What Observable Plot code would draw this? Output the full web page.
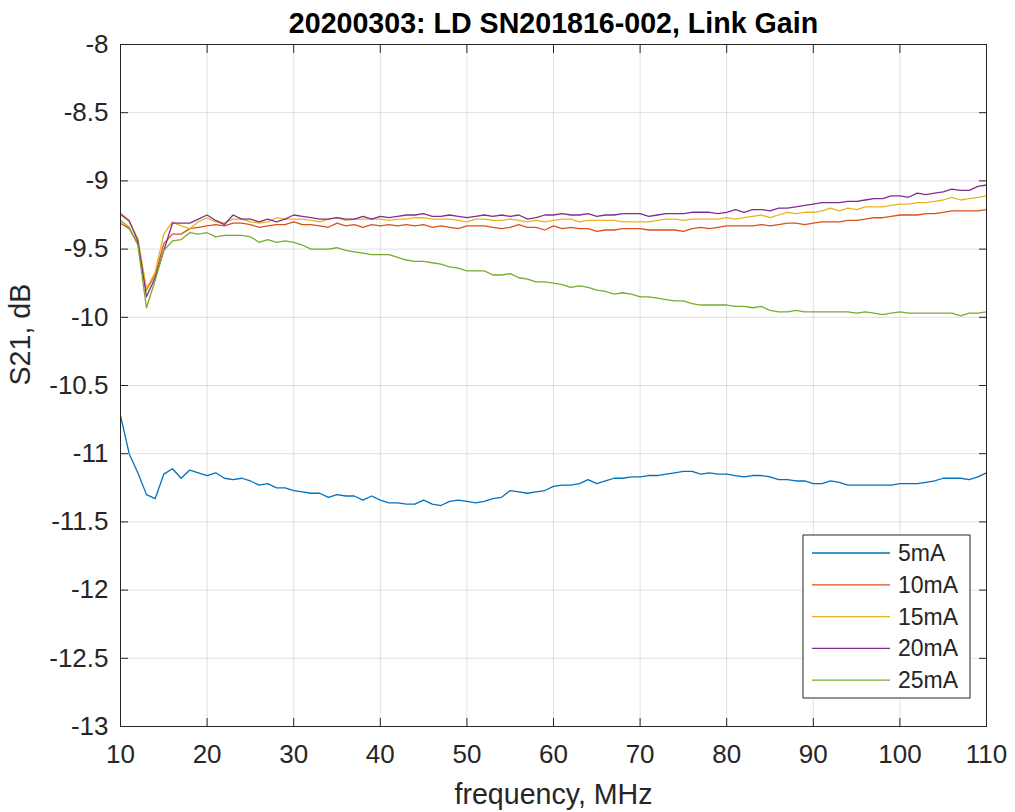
<!DOCTYPE html>
<html>
<head>
<meta charset="utf-8">
<script src="https://cdn.jsdelivr.net/npm/d3@7"></script>
<script src="https://cdn.jsdelivr.net/npm/@observablehq/plot@0.6"></script>
<style>
  html, body { margin: 0; padding: 0; background: #fff; }
  #chart svg { display: block; }
</style>
</head>
<body>
<div id="chart"></div>
<script>
const title = "20200303: LD SN201816-002, Link Gain";
const xLabel = "frequency, MHz";
const yLabel = "S21, dB";
const seriesNames = ["5mA", "10mA", "15mA", "20mA", "25mA"];
const seriesColors = ["#0072BD", "#D95319", "#EDB120", "#7E2F8E", "#77AC30"];
const xTicks = [10, 20, 30, 40, 50, 60, 70, 80, 90, 100, 110];
const yTicks = [-13, -12.5, -12, -11.5, -11, -10.5, -10, -9.5, -9, -8.5, -8];

const freq = [10,11,12,13,14,15,16,17,18,19,20,21,22,23,24,25,26,27,28,29,30,31,32,33,34,35,36,37,38,39,40,41,42,43,44,45,46,47,48,49,50,51,52,53,54,55,56,57,58,59,60,61,62,63,64,65,66,67,68,69,70,71,72,73,74,75,76,77,78,79,80,81,82,83,84,85,86,87,88,89,90,91,92,93,94,95,96,97,98,99,100,101,102,103,104,105,106,107,108,109,110];

const s5mA = [-10.72,-11.00,-11.14,-11.30,-11.33,-11.15,-11.11,-11.18,-11.12,-11.14,
 -11.16,-11.14,-11.18,-11.19,-11.18,-11.20,-11.23,-11.22,-11.25,-11.25,
 -11.27,-11.28,-11.29,-11.29,-11.32,-11.30,-11.31,-11.31,-11.34,-11.31,
 -11.34,-11.36,-11.36,-11.37,-11.37,-11.34,-11.37,-11.38,-11.35,-11.34,
 -11.35,-11.36,-11.35,-11.33,-11.32,-11.27,-11.28,-11.29,-11.28,-11.27,
 -11.24,-11.23,-11.23,-11.22,-11.19,-11.22,-11.20,-11.18,-11.18,-11.17,
 -11.17,-11.16,-11.16,-11.15,-11.14,-11.13,-11.13,-11.15,-11.14,-11.15,
 -11.15,-11.16,-11.17,-11.16,-11.16,-11.17,-11.19,-11.19,-11.20,-11.20,
 -11.22,-11.22,-11.20,-11.21,-11.23,-11.23,-11.23,-11.23,-11.23,-11.23,
 -11.22,-11.22,-11.22,-11.21,-11.20,-11.18,-11.18,-11.18,-11.19,-11.17,-11.14];

const s10mA = [-9.31,-9.35,-9.46,-9.80,-9.69,-9.46,-9.39,-9.39,-9.35,-9.34,
 -9.33,-9.32,-9.33,-9.31,-9.31,-9.32,-9.34,-9.33,-9.32,-9.32,
 -9.30,-9.32,-9.32,-9.33,-9.34,-9.31,-9.33,-9.32,-9.34,-9.32,
 -9.33,-9.32,-9.33,-9.32,-9.33,-9.32,-9.34,-9.33,-9.34,-9.35,
 -9.33,-9.33,-9.33,-9.34,-9.35,-9.34,-9.32,-9.34,-9.34,-9.36,
 -9.33,-9.35,-9.34,-9.35,-9.35,-9.37,-9.36,-9.36,-9.35,-9.35,
 -9.35,-9.36,-9.36,-9.36,-9.36,-9.37,-9.35,-9.34,-9.35,-9.34,
 -9.33,-9.33,-9.33,-9.33,-9.32,-9.33,-9.32,-9.31,-9.31,-9.32,
 -9.31,-9.30,-9.30,-9.30,-9.29,-9.29,-9.28,-9.27,-9.27,-9.26,
 -9.25,-9.25,-9.25,-9.24,-9.24,-9.23,-9.22,-9.22,-9.22,-9.22,-9.21];

const s15mA = [-9.25,-9.30,-9.42,-9.79,-9.67,-9.39,-9.30,-9.33,-9.35,-9.30,
 -9.27,-9.30,-9.31,-9.28,-9.28,-9.30,-9.31,-9.30,-9.27,-9.28,
 -9.28,-9.28,-9.29,-9.30,-9.28,-9.27,-9.29,-9.28,-9.28,-9.28,
 -9.28,-9.29,-9.28,-9.28,-9.27,-9.27,-9.28,-9.28,-9.28,-9.29,
 -9.30,-9.28,-9.28,-9.29,-9.29,-9.28,-9.29,-9.30,-9.29,-9.30,
 -9.29,-9.28,-9.28,-9.30,-9.29,-9.29,-9.29,-9.29,-9.30,-9.30,
 -9.30,-9.30,-9.29,-9.28,-9.28,-9.29,-9.28,-9.28,-9.28,-9.28,
 -9.27,-9.28,-9.27,-9.26,-9.25,-9.27,-9.25,-9.23,-9.24,-9.23,
 -9.23,-9.22,-9.20,-9.22,-9.20,-9.21,-9.19,-9.19,-9.19,-9.18,
 -9.17,-9.17,-9.16,-9.16,-9.15,-9.14,-9.12,-9.14,-9.13,-9.12,-9.11];

const s20mA = [-9.24,-9.29,-9.44,-9.85,-9.71,-9.51,-9.31,-9.31,-9.31,-9.28,
 -9.25,-9.29,-9.32,-9.25,-9.28,-9.28,-9.30,-9.28,-9.30,-9.28,
 -9.25,-9.26,-9.27,-9.28,-9.28,-9.27,-9.28,-9.28,-9.26,-9.28,
 -9.26,-9.27,-9.26,-9.25,-9.25,-9.24,-9.26,-9.26,-9.25,-9.26,
 -9.27,-9.26,-9.25,-9.26,-9.25,-9.26,-9.25,-9.28,-9.27,-9.25,
 -9.25,-9.24,-9.25,-9.25,-9.24,-9.26,-9.25,-9.25,-9.24,-9.24,
 -9.24,-9.26,-9.25,-9.24,-9.24,-9.24,-9.23,-9.23,-9.23,-9.24,
 -9.23,-9.21,-9.23,-9.21,-9.21,-9.22,-9.20,-9.20,-9.19,-9.18,
 -9.17,-9.16,-9.16,-9.16,-9.15,-9.15,-9.14,-9.13,-9.13,-9.11,
 -9.11,-9.12,-9.09,-9.10,-9.09,-9.08,-9.06,-9.07,-9.07,-9.04,-9.03];

const s25mA = [-9.29,-9.34,-9.47,-9.93,-9.73,-9.51,-9.44,-9.43,-9.38,-9.39,
 -9.38,-9.41,-9.40,-9.40,-9.40,-9.41,-9.45,-9.43,-9.45,-9.44,
 -9.45,-9.47,-9.50,-9.50,-9.50,-9.49,-9.51,-9.52,-9.53,-9.54,
 -9.54,-9.54,-9.56,-9.58,-9.59,-9.59,-9.60,-9.61,-9.63,-9.64,
 -9.66,-9.66,-9.66,-9.69,-9.69,-9.68,-9.71,-9.72,-9.74,-9.74,
 -9.75,-9.76,-9.78,-9.77,-9.78,-9.80,-9.81,-9.83,-9.82,-9.83,
 -9.85,-9.85,-9.86,-9.87,-9.88,-9.88,-9.90,-9.91,-9.91,-9.91,
 -9.91,-9.92,-9.92,-9.93,-9.92,-9.95,-9.96,-9.96,-9.95,-9.96,
 -9.96,-9.96,-9.96,-9.96,-9.96,-9.97,-9.96,-9.97,-9.98,-9.97,
 -9.96,-9.97,-9.97,-9.97,-9.97,-9.97,-9.97,-9.99,-9.97,-9.97,-9.96];

const seriesValues = [s5mA, s10mA, s15mA, s20mA, s25mA];

const rows = [];
seriesNames.forEach((name, si) => {
  freq.forEach((f, i) => rows.push({ series: name, f, v: seriesValues[si][i] }));
});

const W = 1015, H = 812;
const margin = { top: 44, right: 29, bottom: 86, left: 120 };
const font = "'Liberation Sans', Arial, Helvetica, sans-serif";
const axisColor = "#262626";
const fmt = d => String(d);

const plot = Plot.plot({
  width: W,
  height: H,
  marginTop: margin.top,
  marginRight: margin.right,
  marginBottom: margin.bottom,
  marginLeft: margin.left,
  style: { fontFamily: font, fontSize: "26px", color: axisColor, background: "#fff" },
  x: { domain: [10, 110], ticks: xTicks },
  y: { domain: [-13, -8], ticks: yTicks },
  color: { domain: seriesNames, range: seriesColors },
  marks: [
    Plot.gridX(xTicks, { stroke: "#000", strokeOpacity: 0.12, strokeWidth: 1 }),
    Plot.gridY(yTicks, { stroke: "#000", strokeOpacity: 0.12, strokeWidth: 1 }),
    Plot.line(rows, { x: "f", y: "v", z: "series", stroke: "series", strokeWidth: 1.3, curve: "linear" }),
    Plot.frame({ stroke: axisColor, strokeWidth: 1 }),
    Plot.axisX(xTicks, { anchor: "bottom", tickSize: -8, tickPadding: 26, tickFormat: fmt, label: null, fontSize: 26, fill: axisColor, stroke: axisColor }),
    Plot.axisX(xTicks, { anchor: "top", tickSize: -8, tickFormat: () => "", label: null, stroke: axisColor }),
    Plot.axisY(yTicks, { anchor: "left", tickSize: -8, tickPadding: 20, tickFormat: fmt, label: null, fontSize: 26, fill: axisColor, stroke: axisColor }),
    Plot.axisY(yTicks, { anchor: "right", tickSize: -8, tickFormat: () => "", label: null, stroke: axisColor }),
    Plot.text([title], { frameAnchor: "top", dy: -32, fontSize: 28.6, fontWeight: "bold", fill: "#000" }),
    Plot.text([xLabel], { frameAnchor: "bottom", dy: 77, fontSize: 28.6, fill: axisColor }),
    Plot.text([yLabel], { frameAnchor: "left", dx: -100, rotate: -90, fontSize: 28.6, fill: axisColor })
  ]
});

document.getElementById("chart").appendChild(plot);

// Legend (lower right, inside the axes)
const svg = d3.select(plot);
const frameRight = W - margin.right;
const frameBottom = H - margin.bottom;
const boxW = 167, boxH = 163;
const boxX = frameRight - 16 - boxW;
const boxY = frameBottom - 28 - boxH;
const lg = svg.append("g").attr("font-family", font).attr("font-size", 23).attr("text-anchor", "start");
lg.append("rect")
  .attr("x", boxX).attr("y", boxY).attr("width", boxW).attr("height", boxH)
  .attr("fill", "#fff").attr("stroke", axisColor).attr("stroke-width", 1);
seriesNames.forEach((name, i) => {
  const yy = boxY + 18 + i * 31.8;
  lg.append("line")
    .attr("x1", boxX + 9).attr("x2", boxX + 87)
    .attr("y1", yy).attr("y2", yy)
    .attr("stroke", seriesColors[i]).attr("stroke-width", 1.3);
  lg.append("text")
    .attr("x", boxX + 95).attr("y", yy).attr("dy", "0.35em")
    .attr("text-anchor", "start")
    .attr("fill", axisColor).text(name);
});
</script>
</body>
</html>
